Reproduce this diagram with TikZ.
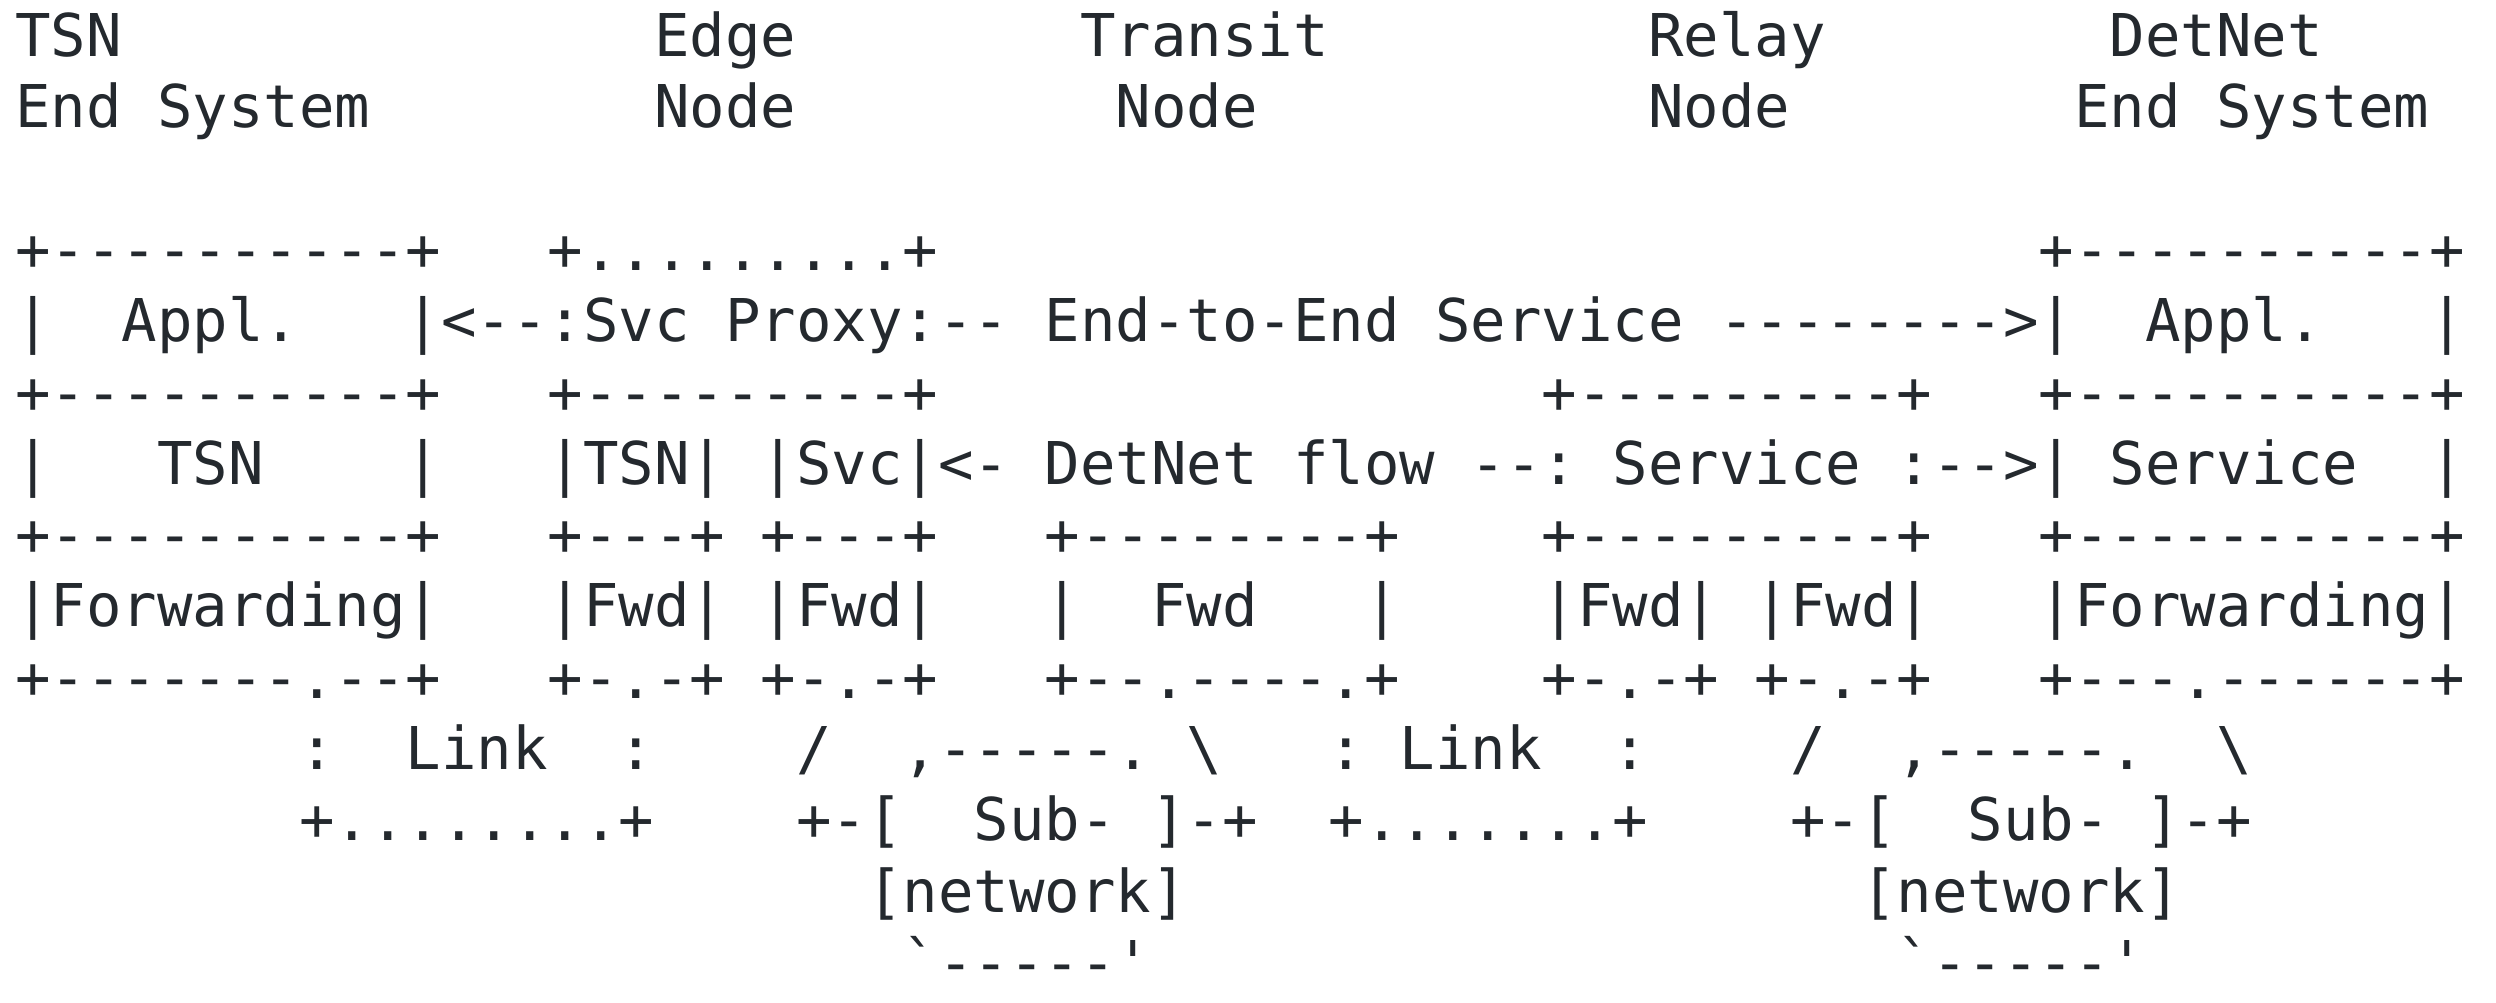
\documentclass[tikz,border=0pt]{standalone}
\usepackage{fontspec}
\setmonofont{DejaVu Sans Mono}
\definecolor{ink}{HTML}{24292E}
\newcommand\tk[3]{\node[txt] (t#1-#2) at ({15+35.5*#2},{56.5+71.3*(#1-1)}) {#3};}
\begin{document}
\begin{tikzpicture}[x=1pt,y=-1pt,
  txt/.style={inner sep=0pt,outer sep=0pt,anchor=base west,text=ink,
    font=\ttfamily\fontsize{58.97}{71.3}\selectfont}]
\useasboundingbox (0,0) rectangle (2496,1002);
% line 1
\tk{1}{0}{TSN}\tk{1}{18}{Edge}\tk{1}{30}{Transit}\tk{1}{46}{Relay}\tk{1}{59}{DetNet}
% line 2
\tk{2}{0}{End}\tk{2}{4}{System}\tk{2}{18}{Node}\tk{2}{31}{Node}\tk{2}{46}{Node}\tk{2}{58}{End}\tk{2}{62}{System}
% line 4
\tk{4}{0}{+----------+}\tk{4}{15}{+.........+}\tk{4}{57}{+----------+}
% line 5
\tk{5}{0}{|}\tk{5}{3}{Appl.}\tk{5}{11}{|<--:Svc}\tk{5}{20}{Proxy:--}\tk{5}{29}{End-to-End}\tk{5}{40}{Service}\tk{5}{48}{-------->|}\tk{5}{60}{Appl.}\tk{5}{68}{|}
% line 6
\tk{6}{0}{+----------+}\tk{6}{15}{+---------+}\tk{6}{43}{+---------+}\tk{6}{57}{+----------+}
% line 7
\tk{7}{0}{|}\tk{7}{4}{TSN}\tk{7}{11}{|}\tk{7}{15}{|TSN|}\tk{7}{21}{|Svc|<-}\tk{7}{29}{DetNet}\tk{7}{36}{flow}\tk{7}{41}{--:}\tk{7}{45}{Service}\tk{7}{53}{:-->|}\tk{7}{59}{Service}\tk{7}{68}{|}
% line 8
\tk{8}{0}{+----------+}\tk{8}{15}{+---+}\tk{8}{21}{+---+}\tk{8}{29}{+--------+}\tk{8}{43}{+---------+}\tk{8}{57}{+----------+}
% line 9
\tk{9}{0}{|Forwarding|}\tk{9}{15}{|Fwd|}\tk{9}{21}{|Fwd|}\tk{9}{29}{|}\tk{9}{32}{Fwd}\tk{9}{38}{|}\tk{9}{43}{|Fwd|}\tk{9}{49}{|Fwd|}\tk{9}{57}{|Forwarding|}
% line 10
\tk{10}{0}{+-------.--+}\tk{10}{15}{+-.-+}\tk{10}{21}{+-.-+}\tk{10}{29}{+--.----.+}\tk{10}{43}{+-.-+}\tk{10}{49}{+-.-+}\tk{10}{57}{+---.------+}
% line 11
\tk{11}{8}{:}\tk{11}{11}{Link}\tk{11}{17}{:}\tk{11}{22}{/}\tk{11}{25}{,-----.}\tk{11}{33}{\textbackslash}\tk{11}{37}{:}\tk{11}{39}{Link}\tk{11}{45}{:}\tk{11}{50}{/}\tk{11}{53}{,-----.}\tk{11}{62}{\textbackslash}
% line 12
\tk{12}{8}{+........+}\tk{12}{22}{+-[}\tk{12}{27}{Sub-}\tk{12}{32}{]-+}\tk{12}{37}{+.......+}\tk{12}{50}{+-[}\tk{12}{55}{Sub-}\tk{12}{60}{]-+}
% line 13
\tk{13}{24}{[network]}\tk{13}{52}{[network]}
% line 14
\tk{14}{25}{\symbol{96}-----\symbol{39}}\tk{14}{53}{\symbol{96}-----\symbol{39}}
\end{tikzpicture}
\end{document}
